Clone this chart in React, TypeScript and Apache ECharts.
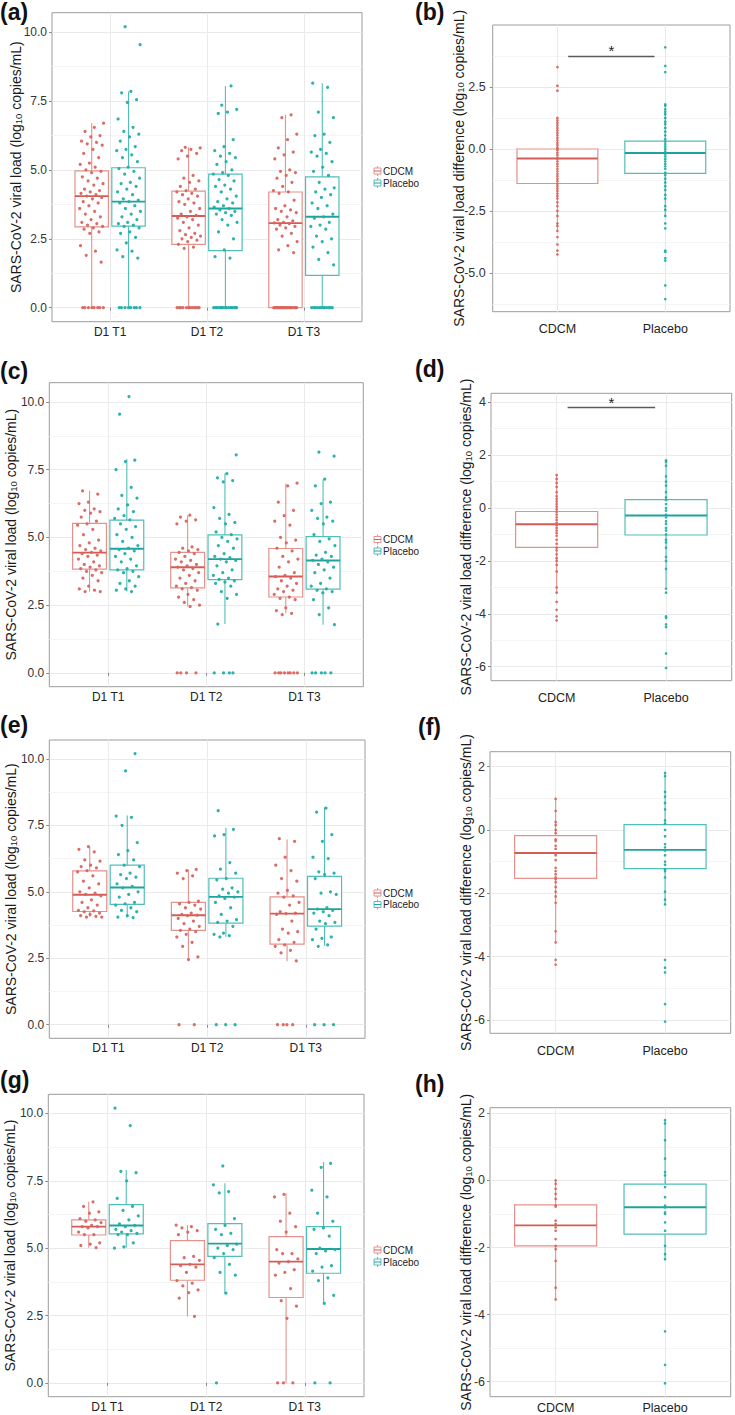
import React, { useEffect, useRef } from 'react';
import * as echarts from 'echarts';

// ---------------- Data ----------------
const leftCategories = ['D1 T1', 'D1 T2', 'D1 T3'];
const rightCategories = ['CDCM', 'Placebo'];
const groupNames = ['CDCM', 'Placebo'];

// Box statistics: [lower whisker, Q1, median, Q3, upper whisker]
// Panel (a)
const aCdcmBox = [[0, 2.93, 4.05, 4.97, 6.7], [0, 2.3, 3.33, 4.23, 5.82], [0, 0, 3.07, 4.2, 7.0]];
const aPlaceboBox = [[0, 2.96, 3.85, 5.08, 7.85], [0, 2.07, 3.6, 4.85, 8.05], [0, 1.17, 3.3, 4.75, 8.15]];
const aCdcmPts = [
  [6.7, 6.55, 6.4, 6.25, 6.2, 6.05, 6.0, 5.95, 5.9, 5.75, 5.6, 5.45, 5.25, 5.2, 5.1, 5.0, 4.95, 4.9, 4.75, 4.7, 4.6, 4.5, 4.45, 4.3, 4.25, 4.2, 4.15, 4.1, 4.05, 4.0, 3.95, 3.85, 3.8, 3.7, 3.6, 3.5, 3.4, 3.3, 3.2, 3.1, 3.05, 3.0, 2.95, 2.9, 2.85, 2.75, 2.7, 2.25, 2.05, 1.9, 1.65, 0, 0, 0, 0, 0, 0, 0, 0],
  [5.82, 5.8, 5.75, 5.7, 5.6, 5.5, 5.4, 4.8, 4.7, 4.6, 4.55, 4.4, 4.3, 4.25, 4.2, 4.15, 4.1, 4.05, 3.95, 3.85, 3.8, 3.75, 3.6, 3.5, 3.4, 3.35, 3.3, 3.25, 3.2, 3.1, 3.0, 2.9, 2.8, 2.7, 2.65, 2.6, 2.55, 2.5, 2.45, 2.4, 2.3, 2.2, 2.15, 0, 0, 0, 0, 0, 0, 0, 0, 0, 0, 0, 0],
  [7.0, 6.9, 6.3, 6.1, 5.8, 5.65, 5.55, 5.4, 5.0, 4.95, 4.9, 4.8, 4.7, 4.55, 4.4, 4.25, 4.2, 4.15, 3.9, 3.7, 3.6, 3.55, 3.5, 3.45, 3.3, 3.2, 3.15, 3.1, 3.08, 3.05, 3.0, 2.95, 2.9, 2.85, 2.7, 2.6, 2.4, 2.25, 2.1, 2.0, 0, 0, 0, 0, 0, 0, 0, 0, 0, 0, 0, 0, 0, 0, 0, 0, 0, 0, 0, 0],
];
const aPlaceboPts = [
  [10.2, 9.55, 7.85, 7.8, 7.55, 7.45, 6.85, 6.55, 6.4, 6.3, 6.2, 6.05, 5.85, 5.75, 5.7, 5.55, 5.45, 5.3, 5.1, 5.05, 4.95, 4.85, 4.7, 4.55, 4.5, 4.4, 4.3, 4.2, 4.1, 3.95, 3.9, 3.85, 3.8, 3.7, 3.6, 3.5, 3.4, 3.3, 3.2, 3.1, 3.05, 3.0, 2.95, 2.9, 2.75, 2.7, 2.55, 2.35, 2.1, 2.05, 1.85, 1.8, 0, 0, 0, 0, 0, 0, 0, 0],
  [8.05, 7.35, 7.2, 7.1, 7.05, 6.1, 5.85, 5.7, 5.6, 5.5, 5.45, 5.3, 5.2, 5.0, 4.9, 4.85, 4.8, 4.65, 4.6, 4.45, 4.4, 4.3, 4.2, 4.05, 3.95, 3.85, 3.8, 3.7, 3.65, 3.6, 3.55, 3.5, 3.45, 3.4, 3.35, 3.2, 3.1, 3.0, 2.75, 2.5, 2.1, 1.85, 1.8, 0, 0, 0, 0, 0, 0, 0, 0, 0, 0, 0, 0, 0, 0, 0],
  [8.15, 8.0, 7.1, 6.9, 6.3, 6.25, 6.0, 5.75, 5.65, 5.6, 5.5, 5.3, 5.1, 4.95, 4.8, 4.55, 4.35, 4.3, 4.2, 4.1, 4.0, 3.8, 3.7, 3.6, 3.4, 3.3, 3.25, 3.1, 3.0, 2.95, 2.85, 2.6, 2.5, 2.4, 2.2, 2.0, 1.75, 1.55, 0, 0, 0, 0, 0, 0, 0, 0, 0, 0, 0, 0],
];

// Panel (c)
const cCdcmBox = [[3.0, 3.83, 4.44, 5.52, 6.72], [2.45, 3.14, 3.9, 4.45, 5.82], [2.2, 2.8, 3.56, 4.59, 6.99]];
const cPlaceboBox = [[3.0, 3.8, 4.58, 5.64, 7.89], [1.8, 3.44, 4.2, 5.09, 7.36], [1.78, 3.09, 4.15, 5.03, 7.14]];
const cCdcmPts = [
  [6.72, 6.6, 6.3, 6.25, 6.05, 6.0, 5.95, 5.9, 5.75, 5.6, 5.5, 5.45, 5.3, 5.1, 4.9, 4.8, 4.7, 4.6, 4.55, 4.5, 4.45, 4.4, 4.35, 4.3, 4.2, 4.1, 4.0, 3.95, 3.9, 3.85, 3.8, 3.75, 3.7, 3.6, 3.5, 3.4, 3.2, 3.1, 3.05, 3.0, 3.0],
  [5.82, 5.75, 5.65, 5.6, 5.5, 4.65, 4.6, 4.55, 4.5, 4.45, 4.4, 4.3, 4.2, 4.15, 4.1, 4.0, 3.95, 3.9, 3.85, 3.8, 3.7, 3.6, 3.5, 3.4, 3.3, 3.2, 3.15, 3.1, 3.05, 2.9, 2.8, 2.7, 2.6, 2.5, 2.45, 0, 0, 0, 0],
  [7.0, 6.9, 6.3, 6.0, 5.8, 5.6, 5.45, 5.0, 4.9, 4.8, 4.6, 4.5, 4.3, 4.2, 4.1, 3.9, 3.7, 3.6, 3.55, 3.5, 3.4, 3.3, 3.2, 3.1, 3.05, 3.0, 2.9, 2.8, 2.75, 2.7, 2.4, 2.3, 2.2, 2.15, 0, 0, 0, 0, 0, 0, 0, 0],
];
const cPlaceboPts = [
  [10.2, 9.55, 7.85, 7.8, 7.5, 6.85, 6.55, 6.45, 6.2, 6.05, 5.95, 5.8, 5.7, 5.65, 5.5, 5.4, 5.3, 5.1, 5.0, 4.85, 4.7, 4.6, 4.55, 4.5, 4.4, 4.3, 4.2, 4.1, 3.95, 3.85, 3.8, 3.75, 3.7, 3.55, 3.4, 3.3, 3.2, 3.1, 3.05, 3.0],
  [8.05, 7.35, 7.2, 7.1, 7.05, 6.1, 5.85, 5.7, 5.55, 5.5, 5.2, 5.1, 5.0, 4.95, 4.85, 4.7, 4.6, 4.4, 4.3, 4.25, 4.2, 4.15, 4.1, 3.95, 3.8, 3.7, 3.6, 3.5, 3.45, 3.4, 3.35, 3.3, 3.2, 3.0, 2.9, 2.75, 1.8, 0, 0, 0, 0],
  [8.15, 8.0, 7.15, 6.9, 6.3, 6.25, 6.0, 5.75, 5.7, 5.6, 5.5, 5.1, 4.95, 4.85, 4.7, 4.45, 4.35, 4.3, 4.2, 4.15, 4.1, 4.0, 3.9, 3.8, 3.7, 3.5, 3.3, 3.2, 3.1, 3.05, 3.0, 2.95, 2.7, 2.4, 2.15, 1.78, 0, 0, 0, 0, 0],
];

// Panel (e)
const eCdcmBox = [[4.05, 4.26, 4.89, 5.79, 6.69], [2.43, 3.55, 4.12, 4.6, 5.84], [2.39, 3.03, 4.18, 4.81, 6.97]];
const ePlaceboBox = [[4.03, 4.53, 5.16, 6.0, 7.87], [3.31, 3.82, 4.81, 5.51, 7.41], [2.97, 3.71, 4.35, 5.58, 8.18]];
const eCdcmPts = [
  [6.7, 6.6, 6.5, 6.2, 6.15, 6.0, 5.95, 5.9, 5.8, 5.75, 5.6, 5.4, 5.3, 5.15, 5.0, 4.95, 4.9, 4.85, 4.7, 4.6, 4.5, 4.4, 4.3, 4.28, 4.25, 4.2, 4.15, 4.1, 4.08, 4.05, 4.05],
  [5.84, 5.8, 5.7, 5.6, 5.5, 4.65, 4.6, 4.55, 4.5, 4.4, 4.35, 4.2, 4.15, 4.12, 4.1, 4.0, 3.9, 3.8, 3.7, 3.6, 3.55, 3.5, 3.4, 3.3, 3.1, 2.95, 2.55, 2.45, 0, 0],
  [7.0, 6.9, 6.3, 6.0, 5.8, 5.5, 5.4, 5.05, 4.95, 4.85, 4.8, 4.6, 4.5, 4.25, 4.2, 4.18, 4.15, 3.9, 3.6, 3.5, 3.45, 3.2, 3.1, 3.0, 2.95, 2.8, 2.7, 2.4, 0, 0, 0, 0],
];
const ePlaceboPts = [
  [10.2, 9.55, 7.85, 7.8, 7.5, 6.85, 6.55, 6.4, 6.2, 6.0, 5.95, 5.7, 5.65, 5.55, 5.5, 5.3, 5.2, 5.15, 5.0, 4.9, 4.8, 4.6, 4.55, 4.5, 4.4, 4.3, 4.25, 4.1, 4.05, 4.03],
  [8.05, 7.35, 7.15, 7.1, 6.1, 5.85, 5.7, 5.5, 5.45, 5.15, 5.1, 5.0, 4.95, 4.85, 4.8, 4.75, 4.6, 4.4, 4.15, 3.95, 3.9, 3.85, 3.7, 3.45, 3.4, 3.35, 3.3, 0, 0, 0],
  [8.15, 8.0, 7.15, 6.9, 6.3, 6.25, 5.75, 5.7, 5.65, 5.5, 5.0, 4.95, 4.9, 4.4, 4.35, 4.3, 4.25, 4.2, 4.1, 3.9, 3.85, 3.8, 3.6, 3.3, 3.25, 3.2, 3.0, 2.95, 0, 0, 0],
];

// Panel (g)
const gCdcmBox = [[5.02, 5.49, 5.8, 6.05, 6.72], [2.47, 3.81, 4.4, 5.28, 5.86], [0, 3.17, 4.5, 5.43, 7.04]];
const gPlaceboBox = [[5.02, 5.53, 5.84, 6.62, 7.9], [3.33, 4.7, 5.17, 5.91, 7.41], [2.96, 4.07, 4.97, 5.8, 8.19]];
const gCdcmPts = [
  [6.72, 6.55, 6.35, 6.3, 6.1, 6.05, 6.0, 5.95, 5.85, 5.8, 5.8, 5.75, 5.6, 5.5, 5.5, 5.2, 5.15, 5.1, 5.02],
  [5.86, 5.8, 5.75, 5.65, 5.6, 5.5, 4.7, 4.65, 4.55, 4.4, 4.35, 4.3, 4.1, 3.8, 3.7, 3.6, 3.45, 3.35, 3.15, 2.47],
  [7.0, 6.9, 6.3, 6.0, 5.8, 5.6, 4.95, 4.8, 4.8, 4.6, 4.5, 4.45, 4.2, 4.1, 4.0, 3.5, 3.05, 2.85, 2.4, 0, 0, 0],
];
const gPlaceboPts = [
  [10.2, 9.55, 7.85, 7.8, 7.5, 6.85, 6.55, 6.4, 6.2, 6.05, 5.9, 5.85, 5.8, 5.7, 5.65, 5.6, 5.55, 5.5, 5.5, 5.2, 5.05, 5.0],
  [8.05, 7.35, 7.1, 7.05, 6.1, 5.85, 5.7, 5.55, 5.5, 5.15, 5.1, 5.0, 4.95, 4.8, 4.65, 4.4, 4.1, 4.0, 3.33, 0],
  [8.15, 8.0, 7.15, 6.9, 6.3, 6.0, 5.75, 5.7, 5.45, 5.0, 4.95, 4.9, 4.8, 4.35, 4.3, 4.15, 3.9, 3.8, 3.25, 2.95, 0, 0],
];

// Difference panels (b, d, f, h): [CDCM, Placebo] box stats and points
const bBox = [[-3.3, -1.39, -0.38, 0.0, 1.25], [-2.7, -0.98, -0.16, 0.32, 1.8]];
const bPts = [
  [3.3, 2.55, 2.35, 1.25, 1.15, 1.05, 0.95, 0.85, 0.75, 0.65, 0.55, 0.45, 0.35, 0.25, 0.15, 0.05, 0, -0.05, -0.15, -0.25, -0.35, -0.4, -0.5, -0.6, -0.7, -0.8, -0.9, -1.0, -1.1, -1.2, -1.3, -1.4, -1.5, -1.6, -1.7, -1.8, -1.9, -2.0, -2.15, -2.3, -2.5, -2.7, -3.0, -3.1, -3.3, -3.55, -3.85, -4.1, -4.25],
  [4.1, 3.35, 3.1, 1.8, 1.75, 1.6, 1.5, 1.4, 1.25, 1.1, 1.0, 0.85, 0.7, 0.55, 0.4, 0.3, 0.2, 0.1, 0, -0.1, -0.2, -0.3, -0.4, -0.5, -0.6, -0.7, -0.8, -0.95, -1.05, -1.2, -1.35, -1.5, -1.65, -1.85, -2.0, -2.3, -2.45, -2.7, -3.0, -3.2, -4.1, -4.15, -4.4, -4.5, -5.5, -6.05],
];
const dBox = [[-3.2, -1.49, -0.61, -0.13, 1.25], [-3.0, -1.02, -0.28, 0.32, 1.8]];
const dPts = [
  [1.25, 1.1, 0.95, 0.8, 0.6, 0.45, 0.35, 0.25, 0.15, 0.05, -0.05, -0.15, -0.25, -0.35, -0.45, -0.55, -0.65, -0.75, -0.85, -0.95, -1.05, -1.2, -1.35, -1.5, -1.6, -1.75, -1.9, -2.0, -2.15, -2.4, -3.0, -3.2, -3.55, -3.85, -4.1, -4.25],
  [1.8, 1.75, 1.6, 1.2, 1.0, 0.85, 0.6, 0.4, 0.3, 0.15, 0.0, -0.1, -0.25, -0.35, -0.5, -0.6, -0.75, -0.85, -1.0, -1.2, -1.3, -1.5, -1.85, -2.0, -2.3, -3.05, -3.2, -4.1, -4.15, -4.4, -4.5, -5.5, -6.05],
];
const fBox = [[-3.55, -1.53, -0.73, -0.18, 0.98], [-2.35, -1.22, -0.63, 0.17, 1.8]];
const fPts = [
  [0.98, 0.6, 0.25, 0.15, 0.0, -0.1, -0.3, -0.35, -0.5, -0.6, -0.75, -0.8, -0.95, -1.2, -1.3, -1.4, -1.5, -1.55, -1.65, -1.8, -1.95, -2.1, -2.3, -3.2, -3.55, -4.1, -4.25],
  [1.8, 1.7, 1.2, 1.05, 0.85, 0.65, 0.3, 0.2, 0.0, -0.2, -0.45, -0.55, -0.65, -0.8, -1.0, -1.1, -1.25, -1.3, -1.5, -1.95, -2.2, -2.35, -4.1, -4.35, -4.5, -5.5, -6.05],
];
const hBox = [[-3.55, -1.95, -1.34, -0.73, 0.0], [-2.35, -1.6, -0.8, -0.11, 1.8]];
const hPts = [
  [0.0, -0.1, -0.25, -0.4, -0.55, -0.75, -0.78, -1.2, -1.3, -1.4, -1.5, -1.75, -1.95, -2.05, -2.4, -3.2, -3.55],
  [1.8, 1.7, 1.2, 0.65, 0.25, 0.15, -0.2, -0.5, -0.75, -0.8, -0.95, -1.0, -1.25, -1.5, -1.95, -2.2, -2.35, -4.5, -5.5, -6.05],
];

// Significance bars: [x from, x to, y]
const bSig = [1.1, 1.9, 3.75];
const dSig = [1.1, 1.9, 3.8];

// Tick values
const leftMajor = [0, 2.5, 5, 7.5, 10];
const leftMinor = [1.25, 3.75, 6.25, 8.75];
const bMajor = [-5, -2.5, 0, 2.5];
const bMinor = [-6.25, -3.75, -1.25, 1.25, 3.75];
const dMajor = [-6, -4, -2, 0, 2, 4];
const dMinor = [-5, -3, -1, 1, 3];
const fhMajor = [-6, -4, -2, 0, 2];
const fhMinor = [-5, -3, -1, 1];

// ---------------- Styling ----------------
const FONT = '"Liberation Sans", Arial, Helvetica, sans-serif';
const CDCM_PT = '#D8665F';
const CDCM_BOX = '#E3928C';
const CDCM_MED = '#D35D56';
const PLA_PT = '#22AEA8';
const PLA_BOX = '#52BEB9';
const PLA_MED = '#1FA39D';
const BORDER = '#9C9C9C';
const GRID_MAJOR = '#EAEAEA';
const GRID_MINOR = '#F4F4F4';
const TICK = '#8A8A8A';

const leftTitle = 'SARS-CoV-2 viral load (log{sub|10} copies/mL)';
const rightTitle = 'SARS-CoV-2 viral load difference (log{sub|10} copies/mL)';

type Panel = {
  letter: string;
  kind: 'left' | 'right';
  rect: number[];
  yMin: number;
  yMax: number;
  major: number[];
  minor: number[];
  dec: number;
  nameGap: number;
  yLabelMargin: number;
  xLabelMargin: number;
  cdcmBox: number[][];
  placeboBox: number[][];
  cdcmPts: number[][];
  placeboPts: number[][];
  sig?: number[];
};

const panels: Panel[] = [
  { letter: 'a', kind: 'left', rect: [52, 12.7, 310, 309], yMin: -0.51, yMax: 10.71, major: leftMajor, minor: leftMinor, dec: 1, nameGap: 29, yLabelMargin: 5, xLabelMargin: 4, cdcmBox: aCdcmBox, placeboBox: aPlaceboBox, cdcmPts: aCdcmPts, placeboPts: aPlaceboPts },
  { letter: 'b', kind: 'right', rect: [492.7, 25, 237.3, 286.7], yMin: -6.56, yMax: 5.0, major: bMajor, minor: bMinor, dec: 1, nameGap: 27, yLabelMargin: 7, xLabelMargin: 11, cdcmBox: [bBox[0]], placeboBox: [bBox[1]], cdcmPts: [bPts[0]], placeboPts: [bPts[1]], sig: bSig },
  { letter: 'c', kind: 'left', rect: [49.3, 382.7, 314, 304], yMin: -0.51, yMax: 10.71, major: leftMajor, minor: leftMinor, dec: 1, nameGap: 31, yLabelMargin: 5, xLabelMargin: 4, cdcmBox: cCdcmBox, placeboBox: cPlaceboBox, cdcmPts: cCdcmPts, placeboPts: cPlaceboPts },
  { letter: 'd', kind: 'right', rect: [491, 393.3, 240.7, 287.4], yMin: -6.53, yMax: 4.34, major: dMajor, minor: dMinor, dec: 0, nameGap: 18, yLabelMargin: 5, xLabelMargin: 11, cdcmBox: [dBox[0]], placeboBox: [dBox[1]], cdcmPts: [dPts[0]], placeboPts: [dPts[1]], sig: dSig },
  { letter: 'e', kind: 'left', rect: [49.3, 740, 315.7, 298.3], yMin: -0.51, yMax: 10.71, major: leftMajor, minor: leftMinor, dec: 1, nameGap: 31, yLabelMargin: 5, xLabelMargin: 4, cdcmBox: eCdcmBox, placeboBox: ePlaceboBox, cdcmPts: eCdcmPts, placeboPts: ePlaceboPts },
  { letter: 'f', kind: 'right', rect: [490, 751.7, 240.7, 281.6], yMin: -6.42, yMax: 2.47, major: fhMajor, minor: fhMinor, dec: 0, nameGap: 17, yLabelMargin: 5, xLabelMargin: 11, cdcmBox: [fBox[0]], placeboBox: [fBox[1]], cdcmPts: [fPts[0]], placeboPts: [fPts[1]] },
  { letter: 'g', kind: 'left', rect: [48.3, 1094.3, 315.7, 302.4], yMin: -0.51, yMax: 10.71, major: leftMajor, minor: leftMinor, dec: 1, nameGap: 31, yLabelMargin: 5, xLabelMargin: 4, cdcmBox: gCdcmBox, placeboBox: gPlaceboBox, cdcmPts: gCdcmPts, placeboPts: gPlaceboPts },
  { letter: 'h', kind: 'right', rect: [490, 1107.7, 240.7, 289], yMin: -6.45, yMax: 2.17, major: fhMajor, minor: fhMinor, dec: 0, nameGap: 17, yLabelMargin: 5, xLabelMargin: 5, cdcmBox: [hBox[0]], placeboBox: [hBox[1]], cdcmPts: [hPts[0]], placeboPts: [hPts[1]] },
];

// Layout of the panel letters and the legends (page pixels)
const letterPos: Record<string, number[]> = { a: [0, 0], b: [415, 0], c: [0, 359], d: [415, 357], e: [0, 713], f: [418, 715], g: [0, 1068], h: [415, 1072] };
const legendRows = [[171, 183], [539.5, 551], [893, 904.5], [1250, 1262]];

// deterministic horizontal jitter (layout only, not data)
const jitter = (i: number, seed: number) => ((((i + 1) * 0.6180339887 + seed * 0.3713) % 1) - 0.5);

function boxSeries(name: string, data: number[][], width: number, boxColor: string, medColor: string, xi: number, yi: number) {
  return {
    type: 'custom',
    name,
    xAxisIndex: xi,
    yAxisIndex: yi,
    z: 2,
    silent: true,
    clip: false,
    data,
    encode: { x: 0, y: [1, 2, 3, 4, 5] },
    renderItem: (_params: any, api: any) => {
      const x = api.value(0);
      const lo = api.value(1), q1 = api.value(2), med = api.value(3), q3 = api.value(4), hi = api.value(5);
      const h = width / 2;
      const pHi = api.coord([x, hi]);
      const pLo = api.coord([x, lo]);
      const pQ3L = api.coord([x - h, q3]);
      const pQ1R = api.coord([x + h, q1]);
      const pMedL = api.coord([x - h, med]);
      const pMedR = api.coord([x + h, med]);
      return {
        type: 'group',
        children: [
          { type: 'line', shape: { x1: pHi[0], y1: pHi[1], x2: pHi[0], y2: pQ3L[1] }, style: { stroke: boxColor, lineWidth: 1.1 } },
          { type: 'line', shape: { x1: pLo[0], y1: pQ1R[1], x2: pLo[0], y2: pLo[1] }, style: { stroke: boxColor, lineWidth: 1.1 } },
          { type: 'rect', shape: { x: pQ3L[0], y: pQ3L[1], width: pQ1R[0] - pQ3L[0], height: pQ1R[1] - pQ3L[1] }, style: { fill: '#ffffff', stroke: boxColor, lineWidth: 1.2 } },
          { type: 'line', shape: { x1: pMedL[0], y1: pMedL[1], x2: pMedR[0], y2: pMedR[1] }, style: { stroke: medColor, lineWidth: 1.9 } },
        ],
      };
    },
  };
}

function buildOption() {
  const grid: any[] = [];
  const xAxis: any[] = [];
  const yAxis: any[] = [];
  const series: any[] = [];
  const graphic: any[] = [];

  panels.forEach((p, pi) => {
    const isLeft = p.kind === 'left';
    const cats = isLeft ? leftCategories : rightCategories;
    const catPos = cats.map((_, i) => i + 1);
    grid.push({
      left: p.rect[0], top: p.rect[1], width: p.rect[2], height: p.rect[3],
      show: true, borderColor: BORDER, borderWidth: 1, backgroundColor: '#ffffff',
      containLabel: false, outerBoundsMode: 'none',
    });
    const xi = xAxis.length;
    xAxis.push({
      type: 'value', gridIndex: pi, min: 0.4, max: cats.length + 0.6,
      axisLine: { show: false },
      axisTick: { show: true, length: 3, customValues: catPos, lineStyle: { color: TICK } },
      axisLabel: {
        customValues: catPos,
        formatter: (v: number) => cats[Math.round(v) - 1] ?? '',
        margin: p.xLabelMargin, fontSize: isLeft ? 12 : 12.5, color: '#222', fontFamily: FONT,
      },
      splitLine: { show: true, lineStyle: { color: GRID_MAJOR, width: 1 } },
    });
    const yi = yAxis.length;
    yAxis.push({
      type: 'value', gridIndex: pi, min: p.yMin, max: p.yMax, position: 'left',
      axisLine: { show: false },
      axisTick: { show: true, length: 3, customValues: p.major, lineStyle: { color: TICK } },
      axisLabel: {
        customValues: p.major,
        formatter: (v: number) => v.toFixed(p.dec),
        margin: p.yLabelMargin, fontSize: isLeft ? 12 : 12.5, color: '#333', fontFamily: FONT,
      },
      splitLine: { show: true, lineStyle: { color: GRID_MAJOR, width: 1 } },
      name: isLeft ? leftTitle : rightTitle,
      nameLocation: 'middle',
      nameGap: p.nameGap,
      nameMoveOverlap: false,
      nameTextStyle: {
        fontSize: 14, color: '#1a1a1a', fontFamily: FONT,
        rich: { sub: { fontSize: 9.5, color: '#1a1a1a', fontFamily: FONT, verticalAlign: 'bottom', lineHeight: 9 } },
      },
    });
    yAxis.push({
      type: 'value', gridIndex: pi, min: p.yMin, max: p.yMax, position: 'left',
      axisLine: { show: false },
      axisTick: { show: false, customValues: p.minor },
      axisLabel: { show: false, customValues: p.minor },
      splitLine: { show: true, lineStyle: { color: GRID_MINOR, width: 1 } },
    });

    // x position of a box: left panels dodge the two arms around each time point,
    // right panels have one category per arm
    const offset = isLeft ? 0.19 : 0;
    const boxW = isLeft ? 0.345 : 0.75;
    const jw = isLeft ? 0.25 : 0;
    const ptSize = isLeft ? 3.2 : 2.7;
    const pos = (arm: number, g: number) => (isLeft ? g + 1 + (arm === 0 ? -offset : offset) : arm + 1);

    const cdcmData = p.cdcmBox.map((s, g) => [pos(0, g), ...s]);
    const plaData = p.placeboBox.map((s, g) => [pos(1, g), ...s]);
    series.push(boxSeries(groupNames[0], cdcmData, boxW, CDCM_BOX, CDCM_MED, xi, yi));
    series.push(boxSeries(groupNames[1], plaData, boxW, PLA_BOX, PLA_MED, xi, yi));

    const mkPts = (pts: number[][], arm: number, seed: number) => {
      const out: number[][] = [];
      pts.forEach((vals, g) => {
        vals.forEach((v, i) => {
          out.push([pos(arm, g) + jitter(i, seed + g) * jw, v]);
        });
      });
      return out;
    };
    series.push({
      type: 'scatter', name: groupNames[0], xAxisIndex: xi, yAxisIndex: yi, z: 3, silent: true,
      symbolSize: ptSize, itemStyle: { color: CDCM_PT, opacity: 0.95 },
      data: mkPts(p.cdcmPts, 0, pi * 3 + 1),
    });
    const plaSeries: any = {
      type: 'scatter', name: groupNames[1], xAxisIndex: xi, yAxisIndex: yi, z: 3, silent: true,
      symbolSize: ptSize, itemStyle: { color: PLA_PT, opacity: 0.95 },
      data: mkPts(p.placeboPts, 1, pi * 3 + 2),
    };
    if (p.sig) {
      plaSeries.markLine = {
        silent: true, symbol: ['none', 'none'], animation: false,
        lineStyle: { color: '#5a5a5a', width: 1.3, type: 'solid' },
        label: { show: true, position: 'middle', formatter: '*', fontSize: 15, color: '#222', fontFamily: FONT, distance: -2 },
        data: [[{ coord: [p.sig[0], p.sig[2]] }, { coord: [p.sig[1], p.sig[2]] }]],
      };
    }
    series.push(plaSeries);

    const lp = letterPos[p.letter];
    graphic.push({
      type: 'text', left: lp[0], top: lp[1], silent: true,
      style: { text: `(${p.letter})`, font: `bold 23px ${FONT}`, fill: '#111' },
    });
  });

  legendRows.forEach((row) => {
    [0, 1].forEach((k) => {
      const cy = row[k];
      const col = k === 0 ? CDCM_BOX : PLA_BOX;
      const med = k === 0 ? CDCM_MED : PLA_MED;
      graphic.push({
        type: 'group', silent: true,
        children: [
          { type: 'line', shape: { x1: 377.5, y1: cy - 5, x2: 377.5, y2: cy + 5 }, style: { stroke: col, lineWidth: 1 } },
          { type: 'rect', shape: { x: 374, y: cy - 3, width: 7, height: 6 }, style: { fill: '#fff', stroke: col, lineWidth: 1 } },
          { type: 'line', shape: { x1: 374, y1: cy, x2: 381, y2: cy }, style: { stroke: med, lineWidth: 1 } },
        ],
      });
      graphic.push({
        type: 'text', x: 383, y: cy, silent: true,
        style: { text: groupNames[k], font: `10px ${FONT}`, fill: '#222', textVerticalAlign: 'middle', verticalAlign: 'middle' },
      });
    });
  });

  return {
    animation: false,
    backgroundColor: '#ffffff',
    grid,
    xAxis,
    yAxis,
    series,
    graphic,
  };
}

export default function App() {
  const ref = useRef<HTMLDivElement>(null);
  useEffect(() => {
    if (!ref.current) return;
    const chart = echarts.init(ref.current, null, { renderer: 'svg' });
    chart.setOption(buildOption() as any);
    return () => chart.dispose();
  }, []);
  return (
    <div
      ref={ref}
      style={{ position: 'absolute', left: 0, top: 0, width: 735, height: 1415, background: '#fff' }}
    />
  );
}
